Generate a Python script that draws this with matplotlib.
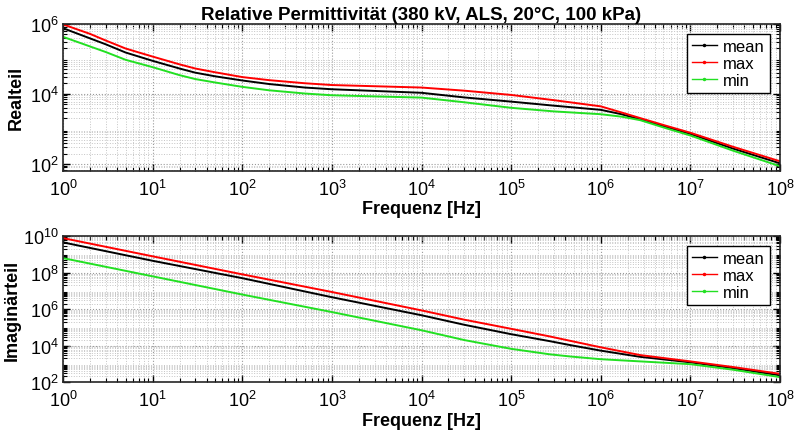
import numpy as np
import matplotlib
matplotlib.use('Agg')
import matplotlib.pyplot as plt
from matplotlib.ticker import LogLocator, NullFormatter

plt.rcParams['font.family'] = ['Liberation Sans', 'DejaVu Sans']
plt.rcParams['mathtext.default'] = 'regular'

# Realteil
f_real = [1, 2, 3, 5, 10, 20, 30, 50, 100, 200, 500, 1e3, 1e4, 3e4, 1e5, 3e5, 1e6,
          1.7e6, 2.75e6, 5.2e6, 1e7, 3e7, 1e8]
real_max = [9.5e5, 5.1e5, 3.3e5, 1.95e5, 1.15e5, 6.9e4, 5.25e4, 4.1e4, 3.0e4, 2.45e4,
            2.0e4, 1.78e4, 1.51e4, 1.23e4, 9.3e3, 6.6e3, 4.4e3, 2.95e3, 2.04e3,
            1.26e3, 7.8e2, 3.1e2, 1.2e2]
real_mean = [7.4e5, 3.8e5, 2.57e5, 1.5e5, 8.7e4, 5.25e4, 4.0e4, 3.15e4, 2.4e4, 1.9e4,
             1.51e4, 1.35e4, 1.07e4, 7.9e3, 6.0e3, 4.6e3, 3.5e3, 2.63e3, 1.86e3,
             1.17e3, 7.2e2, 2.75e2, 1.05e2]
real_min = [4.2e5, 2.24e5, 1.55e5, 9.3e4, 5.75e4, 3.4e4, 2.63e4, 2.1e4, 1.58e4, 1.26e4,
            1.02e4, 9.1e3, 7.8e3, 5.75e3, 4.0e3, 3.16e3, 2.63e3, 2.24e3, 1.78e3,
            1.07e3, 6.5e2, 2.4e2, 8.7e1]

# Imaginaerteil
f_imag = [1, 10, 100, 1e3, 1e4, 3e4, 1e5, 2.7e5, 4.6e5, 1e6, 2.75e6, 1e7, 3e7, 1e8]
imag_max = [7.9e9, 7.9e8, 8.1e7, 8.7e6, 8.5e5, 2.63e5, 8.3e4, 3.16e4, 1.8e4, 8.0e3,
            3.0e3, 1.35e3, 6.6e2, 2.8e2]
imag_mean = [4.6e9, 4.5e8, 5.0e7, 4.5e6, 4.6e5, 1.38e5, 4.2e4, 1.74e4, 1.05e4, 5.25e3,
             2.4e3, 1.2e3, 5.75e2, 2.3e2]
imag_min = [6.3e8, 6.3e7, 6.3e6, 6.9e5, 6.9e4, 2.0e4, 6.6e3, 3.3e3, 2.5e3, 1.78e3,
            1.35e3, 9.5e2, 4.7e2, 1.85e2]

labels = ['mean', 'max', 'min']
colors = ['black', '#ff0000', '#22e022']

fig = plt.figure(figsize=(7.95, 4.39), dpi=100)
ax1 = fig.add_axes([0.0792, 0.609, 0.902, 0.335])
ax2 = fig.add_axes([0.0792, 0.1276, 0.902, 0.332])


def style(ax, ylim, yticks):
    ax.set_xscale('log')
    ax.set_yscale('log')
    ax.set_xlim(1, 1e8)
    ax.set_ylim(*ylim)
    ax.set_xticks([10.0**k for k in range(9)])
    ax.set_yticks(yticks)
    ax.xaxis.set_minor_locator(LogLocator(base=10, subs=np.arange(2, 10), numticks=20))
    ax.yaxis.set_minor_locator(LogLocator(base=10, subs=np.arange(2, 10), numticks=20))
    ax.xaxis.set_minor_formatter(NullFormatter())
    ax.yaxis.set_minor_formatter(NullFormatter())
    ax.tick_params(which='both', direction='in', top=True, right=True, labelsize=13)
    ax.tick_params(which='major', length=5, width=1)
    ax.tick_params(which='minor', length=3, width=0.8)
    ax.tick_params(axis='x', which='major', pad=6)
    ax.tick_params(axis='y', which='major', pad=3)
    ax.grid(True, which='major', linestyle=':', color='#9a9a9a', linewidth=0.8)
    ax.grid(True, which='minor', linestyle=':', color='#c4c4c4', linewidth=0.7)
    for s in ax.spines.values():
        s.set_linewidth(1.2)
        s.set_color('#262626')
    ax.set_xlabel('Frequenz [Hz]', fontsize=13, fontweight='bold', labelpad=1)


for y, c, lab in zip([real_mean, real_max, real_min], colors, labels):
    ax1.plot(f_real, y, '-', color=c, lw=1.4, label=lab)
for y, c, lab in zip([imag_mean, imag_max, imag_min], colors, labels):
    ax2.plot(f_imag, y, '-', color=c, lw=1.4, label=lab)

style(ax1, (65, 1e6), [1e2, 1e4, 1e6])
style(ax2, (1e2, 1e10), [1e2, 1e4, 1e6, 1e8, 1e10])

ax1.set_ylabel('Realteil', fontsize=13, fontweight='bold', labelpad=4)
ax2.set_ylabel('Imaginärteil', fontsize=13, fontweight='bold', labelpad=2)
ax1.set_title('Relative Permittivität (380 kV, ALS, 20°C, 100 kPa)',
              fontsize=13.5, fontweight='bold', pad=3)

for ax in (ax1, ax2):
    leg = ax.legend(loc='upper right', fontsize=12, fancybox=False, framealpha=1,
                    edgecolor='black', handlelength=1.5, borderpad=0.3,
                    labelspacing=0.12, handletextpad=0.4, borderaxespad=0.6)
    leg.get_frame().set_linewidth(1.0)
    for ln in leg.get_lines():
        ln.set_linewidth(1.0)
        ln.set_marker('.')
        ln.set_markersize(3)

fig.savefig('out.png', dpi=100)
